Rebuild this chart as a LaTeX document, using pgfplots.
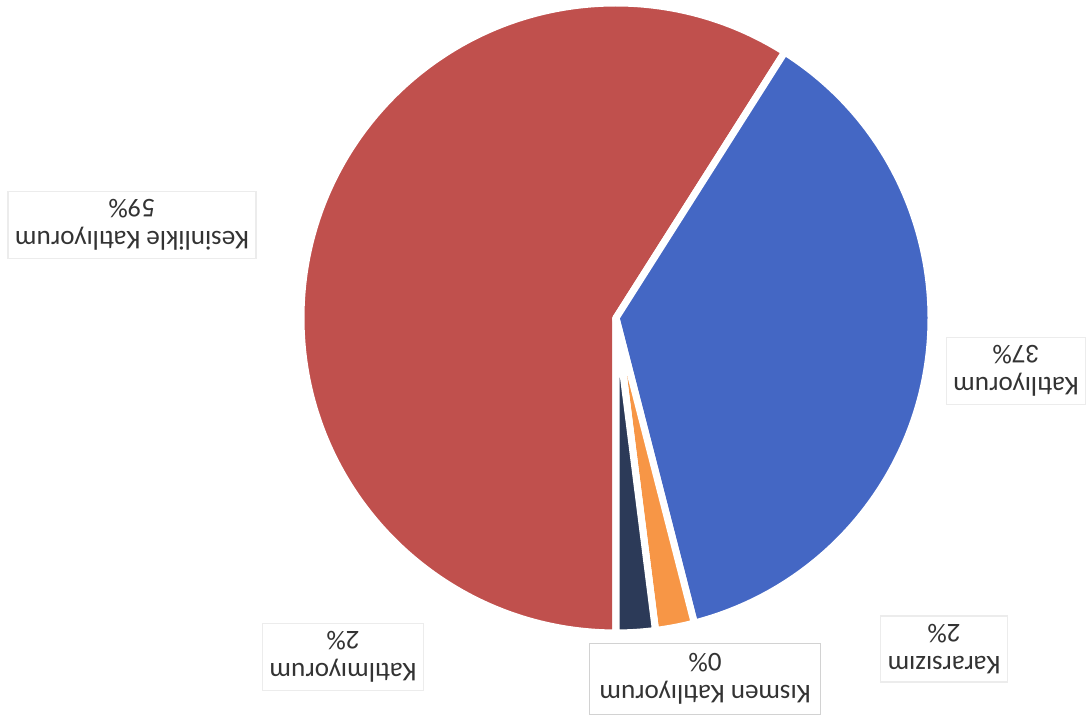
\documentclass[border=0pt]{standalone}
\usepackage{pgfplots}
\usepackage{pgfplotstable}
\pgfplotsset{compat=1.18}
\usepackage{fontspec}
\setmainfont{Carlito}

\definecolor{cRed}{HTML}{C0504D}
\definecolor{cBlue}{HTML}{4467C4}
\definecolor{cOrange}{HTML}{F79646}
\definecolor{cGray}{HTML}{A5A5A5}
\definecolor{cNavy}{HTML}{2C3A58}

% Dilimler: 6 yönünden saat yönünde (resim 180 derece dönük)
\pgfplotstableread{
value col
59 cRed
37 cBlue
2 cOrange
0 cGray
2 cNavy
}\piedata

\begin{document}
\begin{tikzpicture}[
  lbl/.style={rotate=180, align=center, font=\fontsize{7.7}{9.2}\selectfont,
    text=black!80, fill=white, draw=gray!15, inner xsep=0.07cm, inner ysep=0.08cm},
]
\begin{axis}[
  hide axis, scale only axis,
  width=10.9cm, height=7.19cm,
  xmin=0, xmax=1090, ymin=0, ymax=719,
  clip=false,
]
\addplot[draw=none] coordinates {(0,0) (1090,719)};

\pgfplotstablegetrowsof{\piedata}
\pgfmathtruncatemacro\nrows{\pgfplotsretval-1}
\def\angA{270}
\pgfplotsforeachungrouped \i in {0,...,\nrows}{
  \pgfplotstablegetelem{\i}{value}\of\piedata \let\v\pgfplotsretval
  \pgfplotstablegetelem{\i}{col}\of\piedata \let\c\pgfplotsretval
  \pgfmathsetmacro\angB{\angA-3.6*\v}
  \edef\temp{\noexpand\fill[\c, draw=white, line width=2pt, line join=round]
    (axis cs:616,401) -- ++(\angA:3.15cm)
    arc[start angle=\angA, end angle=\angB, radius=3.15cm] -- cycle;}
  \temp
  \let\angA\angB
}

\node[lbl] at (axis cs:132,494) {Kesinlikle Katılıyorum\\59\%};
\node[lbl] at (axis cs:1016,348) {Katılıyorum\\37\%};
\node[lbl] at (axis cs:944,70) {Kararsızım\\2\%};
\node[lbl, draw=gray!35, inner xsep=0.1cm, inner ysep=0.1cm] at (axis cs:705,40) {Kısmen Katılıyorum\\0\%};
\node[lbl] at (axis cs:343,62) {Katılmıyorum\\2\%};
\end{axis}
\pgfresetboundingbox
\useasboundingbox (0,0) rectangle (10.9cm,7.19cm);
\end{tikzpicture}
\end{document}
